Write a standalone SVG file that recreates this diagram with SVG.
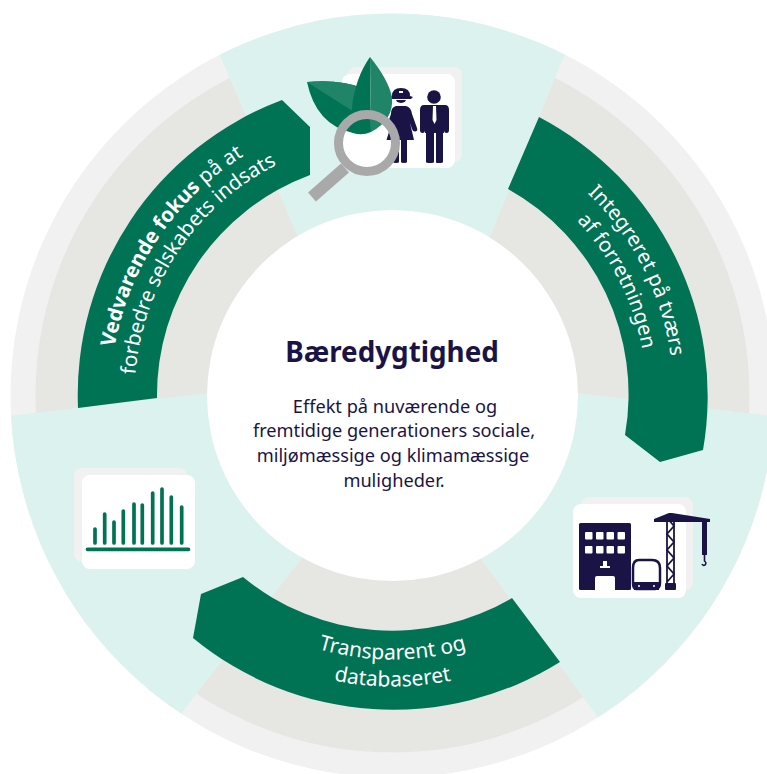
<svg xmlns="http://www.w3.org/2000/svg" width="767" height="774" viewBox="0 0 767 774">
<style>
.g{fill:#007355}.n{fill:#1a1446}.w{fill:#fff}.s{fill:#f1f1f1}.t{fill:#dcf2ee}
.arc{font-family:"Noto Sans","Liberation Sans",sans-serif;font-size:20.5px;fill:#fff;text-anchor:middle}
.big{font-size:21px}
.body{font-family:"Noto Sans","Liberation Sans",sans-serif;font-size:18.2px;fill:#1a1446;text-anchor:middle}
.bar{stroke:#007355;stroke-width:3.7;stroke-linecap:round;fill:none}
</style>
<defs>
<clipPath id="ring"><circle cx="392.5" cy="395.5" r="382"/></clipPath>
<path id="p1" d="M139 519.100A282 282 0 0 1 412.200 114.200"/>
<path id="p2" d="M160.600 508.600A258 258 0 0 1 410.500 138.100"/>
<path id="p3" d="M431.600 117.200A281 281 0 0 1 640.600 527.400"/>
<path id="p4" d="M427.800 144A254 254 0 0 1 616.800 514.800"/>
<path id="p5" d="M222.800 597.700A264 264 0 0 0 562.200 597.700"/>
<path id="p6" d="M205.400 618.400A291 291 0 0 0 579.600 618.400"/>
</defs>
<g id="ring-base">
<circle class="s" cx="392.5" cy="395.5" r="382"/>
<circle cx="392.5" cy="395.5" r="357" fill="#e6e6e2"/>
<g clip-path="url(#ring)">
<polygon class="t" points="393,395 297,235 196,0 587,0 490,237"/>
<polygon class="t" points="393,395 578,393 780,417 780,800 659,800 480,558"/>
<polygon class="t" points="393,395 207,393 0,417 0,800 114,800 302,558"/>
</g>
</g>
<g id="centre">
<circle class="w" cx="392.500" cy="395.500" r="185.500"/>
<text x="392" y="362" font-family="Noto Sans,Liberation Sans,sans-serif" font-size="27.800px" font-weight="700" fill="#1a1446" text-anchor="middle">Bæredygtighed</text>
<text class="body" x="395" y="413">Effekt på nuværende og</text>
<text class="body" x="394" y="437">fremtidige generationers sociale,</text>
<text class="body" x="393" y="462">miljømæssige og klimamæssige</text>
<text class="body" x="394" y="487">muligheder.</text>
</g>
<g id="node-fokus">
<path class="g" d="M78 408A315 315 0 0 1 282 100L310 127V175A235 235 0 0 0 157 398Z"/>
<text class="arc"><textPath href="#p1" startOffset="50%"><tspan font-weight="700">Vedvarende fokus</tspan> på at</textPath></text>
<text class="arc"><textPath href="#p2" startOffset="50%">forbedre selskabets indsats</textPath></text>
</g>
<g id="node-integreret">
<path class="g" d="M539 117A315 315 0 0 1 703 450L660 462L625 435A235 235 0 0 0 508 189Z"/>
<text class="arc"><textPath href="#p3" startOffset="50%">Integreret på tværs</textPath></text>
<text class="arc"><textPath href="#p4" startOffset="50%">af forretningen</textPath></text>
</g>
<g id="node-transparent">
<path class="g" d="M243 577A235 235 0 0 0 512 598L560 662A315 315 0 0 1 193 638L201 594Z"/>
<text class="arc big"><textPath href="#p5" startOffset="50%">Transparent og</textPath></text>
<text class="arc big"><textPath href="#p6" startOffset="50%">databaseret</textPath></text>
</g>
<g id="icon-people">
<rect class="s" x="348" y="67" width="114" height="95" rx="8"/>
<rect class="w" x="342" y="74" width="113" height="94" rx="8"/>
<circle class="n" cx="434" cy="97" r="6.8"/>
<path class="n" d="M424 105H445Q449 105 449 110V130Q449 133 446.500 133T444 130V133H443V162Q443 163 439 163T436 162V133H434V162Q434 163 430 163T426 162V133H425V130Q425 133 422.500 133T420 130V110Q420 105 424 105Z"/>
<path class="w" d="M433 106H436L436.500 120L434.500 124L432.500 120Z"/>
<circle class="n" cx="401" cy="97" r="6"/>
<path class="n" d="M392 96Q392 88 401 88T410 96L413 97L411 99H391L389 97Z"/>
<path class="w" d="M399 91H403V93H399Z"/>
<path class="w" d="M391 99H411V100H391Z"/>
<path class="n" d="M396 106H406Q411 107 412 114L417 128Q418 131 415.500 131.500T412 129L410 123L414 140H407V162Q407 163 404 163T401 162V140H399V162Q399 163 396 163T393 162V140H386.500L392 122L390 130L386 128L391 114Q391 107 396 106Z"/>
</g>
<g id="icon-leaves">
<path d="M307 82Q340 79 362 88L354 112L353 133Q316 125 307 82Z" class="g"/>
<path d="M307 82Q340 79 362 88L354 112Z" fill="#1f8468"/>
<path d="M353 133Q350 128 352 108Q355 78 370 57L371 132Q362 136 353 133Z" class="g"/>
<path d="M370 57Q388 79 392 97Q394 120 371 132Z" fill="#1f8468"/>
</g>
<g id="icon-magnifier">
<path d="M345 168L312 197" fill="none" stroke="#a9a9a9" stroke-width="12"/>
<circle cx="367" cy="143" r="28.500" fill="none" stroke="#a9a9a9" stroke-width="9"/>
</g>
<g id="icon-city">
<rect class="s" x="581" y="497" width="112" height="93" rx="8"/>
<rect class="w" x="573" y="504" width="113" height="94" rx="8"/>
<rect class="n" x="579" y="523" width="52" height="67" rx="1.500"/>
<g class="w">
<rect x="585" y="532" width="7.500" height="7.500" rx="1"/><rect x="596" y="532" width="7.500" height="7.500" rx="1"/><rect x="606.500" y="532" width="7.500" height="7.500" rx="1"/><rect x="617.500" y="532" width="7.500" height="7.500" rx="1"/>
<rect x="585" y="546" width="7.500" height="7.500" rx="1"/><rect x="596" y="546" width="7.500" height="7.500" rx="1"/><rect x="606.500" y="546" width="7.500" height="7.500" rx="1"/><rect x="617.500" y="546" width="7.500" height="7.500" rx="1"/>
<rect x="600" y="566" width="10" height="2"/><rect x="603" y="561" width="4" height="5"/>
<path d="M595 590V578Q595 576 597 576H613Q615 576 615 578V590Z"/>
</g>
<path d="M639 560H652Q660 560 660 568L660 583Q660 589 655 589H636Q633 589 633 583V568Q633 560 639 560Z" fill="#fff" stroke="#1a1446" stroke-width="2.500"/>
<path class="n" d="M634 582H659V590H634Z"/>
<circle class="w" cx="639" cy="586" r="1"/><circle class="w" cx="654" cy="586" r="1"/>
<path d="M667 515H674V586H667Z" fill="#fff" stroke="#1a1446" stroke-width="1.800"/>
<path d="M667 518L674 526L667 534L674 542L667 550L674 558L667 566L674 574L667 582" fill="none" stroke="#1a1446" stroke-width="1.800"/>
<rect class="n" x="665" y="583" width="11" height="7" rx="1"/>
<path class="n" d="M654 519L669 513L672 513L710 519V522H654Z"/>
<path class="n" d="M702 522H707V555H702Z"/>
<path d="M704.500 555V561Q707 563 705 565Q703 566 702 564" fill="none" stroke="#1a1446" stroke-width="1.600"/>
</g>
<g id="icon-chart">
<rect class="s" x="74" y="468" width="113" height="94" rx="8"/>
<rect class="w" x="82" y="475" width="113" height="94" rx="8"/>
<path class="bar" d="M95 529V543M104.700 514V543M114 522V543M123.300 511V543M134 504V543M142.300 505V543M152.700 493V543M162 489V543M171.300 497V543M181.700 507V543M87.500 549.300H188.500"/>
</g>
</svg>
